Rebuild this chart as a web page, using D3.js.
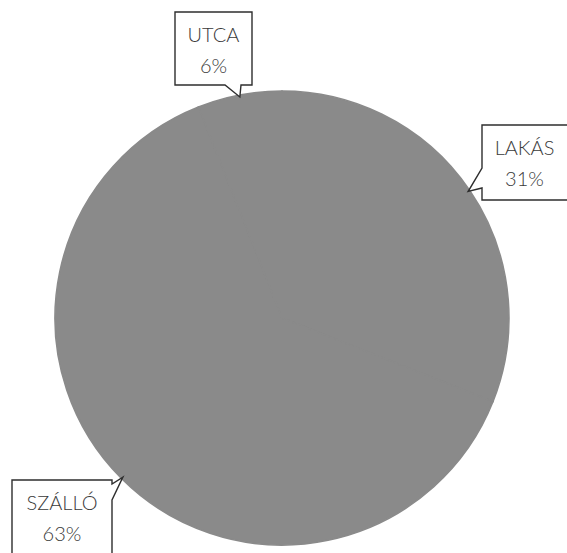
<!DOCTYPE html>
<html>
<head>
<meta charset="utf-8">
<script src="https://cdn.jsdelivr.net/npm/d3@7"></script>
<style>
  body { margin: 0; background: #fff; }
  text { font-family: Lato, "Open Sans", sans-serif; }
</style>
</head>
<body>
<svg></svg>
<script>
// slices in drawing order, clockwise from 12 o'clock
let categories = ["LAKÁS", "SZÁLLÓ", "UTCA"];
let values = [31, 63, 6];

let width = 567;
let height = 553;
let cx = 282, cy = 318, radius = 227;

// callout boxes: x0,y0,x1,y1, side the tail leaves from, and tail base span
let callouts = {
    "LAKÁS":  { box: [482, 125, 572, 200], side: "left",   base: [168, 188] },
    "SZÁLLÓ": { box: [12, 480, 112, 560],  side: "right",  base: [484, 500] },
    "UTCA":   { box: [175, 12, 252, 85],   side: "bottom", base: [225, 241] }
};

let data = categories.map((c, i) => ({ name: c, value: values[i] }));

let svg = d3.select("svg")
    .attr("width", width)
    .attr("height", height);

let pie = d3.pie()
    .sort(null)
    .value(d => d.value);

let arc = d3.arc()
    .innerRadius(0)
    .outerRadius(radius);

let arcs = pie(data);

let g = svg.append("g")
    .attr("transform", "translate(" + cx + "," + cy + ")");

// slices all print the same grey in the scan
g.selectAll("path")
    .data(arcs)
    .enter()
    .append("path")
    .attr("d", arc)
    .attr("fill", "#8a8a8a")
    .attr("stroke", "#8a8a8a")
    .attr("stroke-width", 1.5);

function calloutPath(c, tip) {
    let [x0, y0, x1, y1] = c.box;
    let [b0, b1] = c.base;
    let p = d3.path();
    p.moveTo(x0, y0);
    p.lineTo(x1, y0);
    if (c.side === "right") {
        p.lineTo(x1, b0);
        p.lineTo(tip[0], tip[1]);
        p.lineTo(x1, b1);
    }
    p.lineTo(x1, y1);
    if (c.side === "bottom") {
        p.lineTo(b1, y1);
        p.lineTo(tip[0], tip[1]);
        p.lineTo(b0, y1);
    }
    p.lineTo(x0, y1);
    if (c.side === "left") {
        p.lineTo(x0, b1);
        p.lineTo(tip[0], tip[1]);
        p.lineTo(x0, b0);
    }
    p.closePath();
    return p.toString();
}

arcs.forEach(a => {
    let c = callouts[a.data.name];
    let mid = (a.startAngle + a.endAngle) / 2;
    let tip = [cx + Math.sin(mid) * (radius - 2), cy - Math.cos(mid) * (radius - 2)];
    svg.append("path")
        .attr("d", calloutPath(c, tip))
        .attr("fill", "#fff")
        .attr("stroke", "#2e2e2e")
        .attr("stroke-width", 1.4);

    let tx = c.box[0] + (Math.min(c.box[2], width) - c.box[0]) / 2;
    let ty = c.box[1];
    svg.append("text")
        .attr("x", tx)
        .attr("y", ty + 30)
        .attr("text-anchor", "middle")
        .attr("font-size", 20)
        .attr("font-weight", 300)
        .attr("fill", "#3a3a3a")
        .text(a.data.name);
    svg.append("text")
        .attr("x", tx)
        .attr("y", ty + 61)
        .attr("text-anchor", "middle")
        .attr("font-size", 20)
        .attr("font-weight", 300)
        .attr("fill", "#3a3a3a")
        .text(a.data.value + "%");
});
</script>
</body>
</html>
